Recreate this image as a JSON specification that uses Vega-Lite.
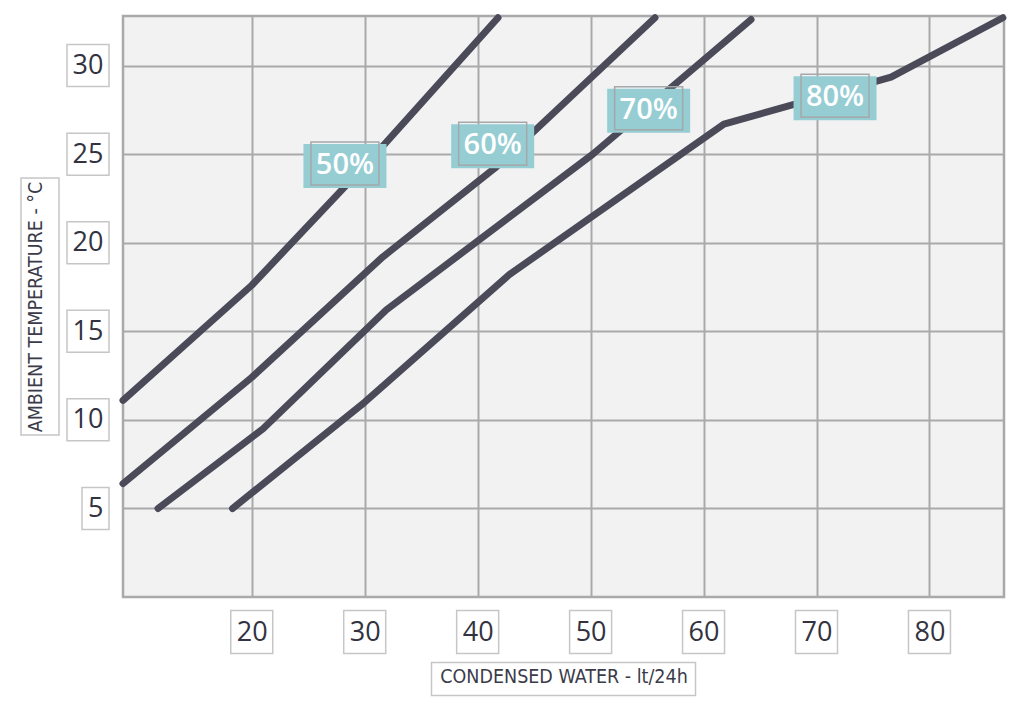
{
  "$schema": "https://vega.github.io/schema/vega-lite/v6.json",
  "autosize": {"type": "none"},
  "width": 881,
  "height": 581,
  "padding": {"left": 123, "top": 16, "right": 20, "bottom": 110},
  "background": "white",
  "config": {
    "font": "Open Sans",
    "view": {"fill": "#f2f2f2", "stroke": "#a9a9ab", "strokeWidth": 2.5}
  },
  "datasets": {
    "curves": [
      {"rh": "50%", "water": 8.6, "temp": 11.1},
      {"rh": "50%", "water": 20.0, "temp": 17.6},
      {"rh": "50%", "water": 28.0, "temp": 23.0},
      {"rh": "50%", "water": 31.8, "temp": 25.6},
      {"rh": "50%", "water": 41.8, "temp": 32.7},
      {"rh": "60%", "water": 8.6, "temp": 6.4},
      {"rh": "60%", "water": 20.0, "temp": 12.4},
      {"rh": "60%", "water": 31.6, "temp": 19.2},
      {"rh": "60%", "water": 41.5, "temp": 24.2},
      {"rh": "60%", "water": 55.7, "temp": 32.7},
      {"rh": "70%", "water": 11.7, "temp": 5.0},
      {"rh": "70%", "water": 21.0, "temp": 9.5},
      {"rh": "70%", "water": 31.9, "temp": 16.2},
      {"rh": "70%", "water": 50.2, "temp": 25.0},
      {"rh": "70%", "water": 64.2, "temp": 32.6},
      {"rh": "80%", "water": 18.3, "temp": 5.0},
      {"rh": "80%", "water": 30.0, "temp": 11.0},
      {"rh": "80%", "water": 42.8, "temp": 18.2},
      {"rh": "80%", "water": 61.8, "temp": 26.7},
      {"rh": "80%", "water": 76.6, "temp": 29.35},
      {"rh": "80%", "water": 86.5, "temp": 32.7}
    ],
    "labels": [
      {"rh": "50%", "water": 28.25, "temp": 24.33},
      {"rh": "60%", "water": 41.33, "temp": 25.45},
      {"rh": "70%", "water": 55.14, "temp": 27.45},
      {"rh": "80%", "water": 71.64, "temp": 28.15}
    ],
    "xticks": [
      {"tick": 20}, {"tick": 30}, {"tick": 40}, {"tick": 50}, {"tick": 60}, {"tick": 70}, {"tick": 80}
    ],
    "yticks": [
      {"tick": 5}, {"tick": 10}, {"tick": 15}, {"tick": 20}, {"tick": 25}, {"tick": 30}
    ],
    "titles": [
      {"axis": "x", "title": "CONDENSED WATER - lt/24h"},
      {"axis": "y", "title": "AMBIENT TEMPERATURE - °C"}
    ]
  },
  "layer": [
    {
      "data": {"name": "curves"},
      "mark": {"type": "line", "color": "#4b4a59", "strokeWidth": 7, "strokeCap": "round", "strokeJoin": "round"},
      "encoding": {
        "x": {
          "field": "water", "type": "quantitative",
          "scale": {"domain": [8.6, 86.6], "nice": false, "zero": false},
          "axis": {
            "values": [20, 30, 40, 50, 60, 70, 80],
            "grid": true, "gridColor": "#a9a9ab", "gridWidth": 2, "gridOpacity": 1,
            "domain": false, "ticks": false,
            "labelFont": "Open Sans", "labelFontSize": 27, "labelFontWeight": 500, "labelColor": "#33333f", "labelPadding": 22,
            "title": "CONDENSED WATER - lt/24h",
            "titleFont": "DejaVu Sans Condensed, Liberation Sans Narrow, sans-serif",
            "titleFontSize": 19.5, "titleFontWeight": "normal", "titleColor": "#3b3b4a", "titlePadding": 22
          }
        },
        "y": {
          "field": "temp", "type": "quantitative",
          "scale": {"domain": [0, 32.8], "nice": false, "zero": false},
          "axis": {
            "values": [5, 10, 15, 20, 25, 30],
            "grid": true, "gridColor": "#a9a9ab", "gridWidth": 2, "gridOpacity": 1,
            "domain": false, "ticks": false,
            "labelFont": "Open Sans", "labelFontSize": 27, "labelFontWeight": 500, "labelColor": "#33333f", "labelPadding": 20,
            "title": "AMBIENT TEMPERATURE - °C",
            "titleFont": "DejaVu Sans Condensed, Liberation Sans Narrow, sans-serif",
            "titleFontSize": 19.5, "titleFontWeight": "normal", "titleColor": "#3b3b4a", "titlePadding": 27
          }
        },
        "detail": {"field": "rh", "type": "nominal"}
      }
    },
    {
      "data": {"name": "xticks"},
      "mark": {"type": "point", "shape": "M-21,-21.5H21V21.5H-21Z", "size": 4, "filled": false, "stroke": "#c6c6c8", "strokeWidth": 1.5, "opacity": 1, "yOffset": 35},
      "encoding": {
        "x": {"field": "tick", "type": "quantitative"},
        "y": {"datum": 0}
      }
    },
    {
      "data": {"name": "yticks"},
      "mark": {"type": "point", "size": 4, "filled": false, "stroke": "#c6c6c8", "strokeWidth": 1.5, "opacity": 1, "xOffset": -14},
      "encoding": {
        "x": {"datum": 8.6},
        "y": {"field": "tick", "type": "quantitative"},
        "shape": {
          "condition": {"test": "datum.tick === 5", "value": "M-27,-21H0V21H-27Z"},
          "value": "M-42,-21H0V21H-42Z"
        }
      }
    },
    {
      "data": {"name": "titles"},
      "transform": [{"filter": "datum.axis === 'x'"}],
      "mark": {"type": "point", "shape": "M-132,-16.5H132V16.5H-132Z", "size": 4, "filled": false, "stroke": "#c6c6c8", "strokeWidth": 1.5, "opacity": 1, "yOffset": 82},
      "encoding": {
        "x": {"datum": 47.6},
        "y": {"datum": 0}
      }
    },
    {
      "data": {"name": "titles"},
      "transform": [{"filter": "datum.axis === 'y'"}],
      "mark": {"type": "point", "shape": "M-19,-128.5H19V128.5H-19Z", "size": 4, "filled": false, "stroke": "#c6c6c8", "strokeWidth": 1.5, "opacity": 1, "xOffset": -83},
      "encoding": {
        "x": {"datum": 8.6},
        "y": {"datum": 16.4}
      }
    },
    {
      "data": {"name": "labels"},
      "mark": {"type": "point", "shape": "M-41.5,-22H41.5V22H-41.5Z", "size": 4, "filled": true, "fill": "#95cdd3", "opacity": 1, "strokeWidth": 0},
      "encoding": {
        "x": {"field": "water", "type": "quantitative"},
        "y": {"field": "temp", "type": "quantitative"}
      }
    },
    {
      "data": {"name": "labels"},
      "mark": {"type": "point", "shape": "M-34,-24H34V19H-34Z", "size": 4, "filled": false, "stroke": "#a4a8aa", "strokeWidth": 1.5, "opacity": 1},
      "encoding": {
        "x": {"field": "water", "type": "quantitative"},
        "y": {"field": "temp", "type": "quantitative"}
      }
    },
    {
      "data": {"name": "labels"},
      "mark": {"type": "text", "font": "Open Sans", "fontSize": 29, "fontWeight": 600, "color": "#ffffff", "align": "center", "baseline": "middle", "dy": -1},
      "encoding": {
        "x": {"field": "water", "type": "quantitative"},
        "y": {"field": "temp", "type": "quantitative"},
        "text": {"field": "rh"}
      }
    }
  ]
}
